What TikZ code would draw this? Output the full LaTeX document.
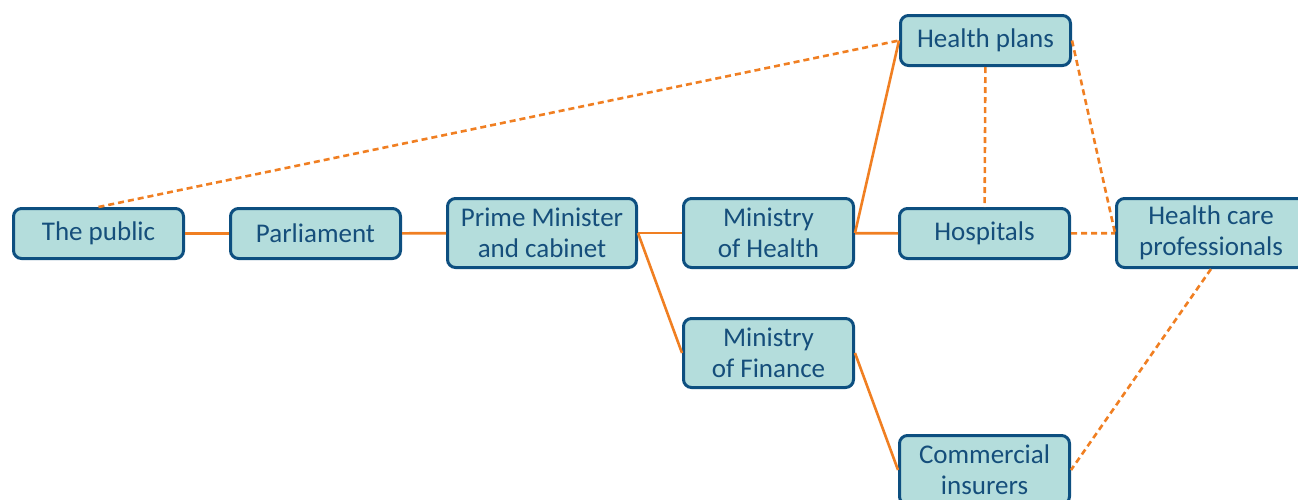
\documentclass[tikz,border=0pt]{standalone}
\usepackage{fontspec}
\setmainfont{Carlito}
\usepackage{tikz}

\definecolor{boxfill}{HTML}{B4DDDC}
\definecolor{boxline}{HTML}{0D4F80}
\definecolor{boxtext}{HTML}{154E7B}
\definecolor{link}{HTML}{F07F22}

\tikzset{
    actor/.style={draw=boxline, fill=boxfill, text=boxtext, line width=3pt,
        rounded corners=8pt, align=center, inner sep=0pt,
        minimum width=170pt, minimum height=50pt,
        font=\fontsize{27}{31}\selectfont},
    tall/.style={minimum height=69pt},
    wide/.style={minimum width=189pt},
    tie/.style={draw=link, line width=2.6pt},
    loose/.style={tie, dash pattern=on 6pt off 4pt},
}

\begin{document}
\begin{tikzpicture}[x=1pt, y=-1pt]
\useasboundingbox (0,0) rectangle (1298,499);
%%   kw   (name)   (x, y)   {text}
    \node[actor] (public) at (98.5, 233.5)            {The public};
    \node[actor] (parl) at (315.5, 233.5)             {Parliament};
    \node[actor, tall, wide] (pm) at (542, 233)       {Prime Minister\\and cabinet};
    \node[actor, tall] (moh) at (768.5, 233)          {Ministry\\of Health};
    \node[actor, tall] (mof) at (768.5, 353)          {Ministry\\of Finance};
    \node[actor] (hosp) at (984.5, 233.5)             {Hospitals};
    \node[actor] (plans) at (985.5, 40.5)             {Health plans};
    \node[actor, tall, wide] (prof) at (1211, 233)    {Health care\\professionals};
    \node[actor, tall] (ins) at (984.5, 470)          {Commercial\\insurers};

    \draw[tie] (public) -- (parl);
    \draw[tie] (parl) -- (pm);
    \draw[tie] (pm) -- (moh);
    \draw[tie] (pm.east) -- (mof.west);
    \draw[tie] (moh) -- (hosp);
    \draw[tie] (moh.east) -- (plans.west);
    \draw[tie] (mof.east) -- (ins.west);
    \draw[loose] (public.north) -- (plans.west);
    \draw[loose] (plans) -- (hosp);
    \draw[loose] (plans.east) -- (prof.west);
    \draw[loose] (hosp) -- (prof);
    \draw[loose] (prof.south) -- (ins.east);
\end{tikzpicture}
\end{document}
